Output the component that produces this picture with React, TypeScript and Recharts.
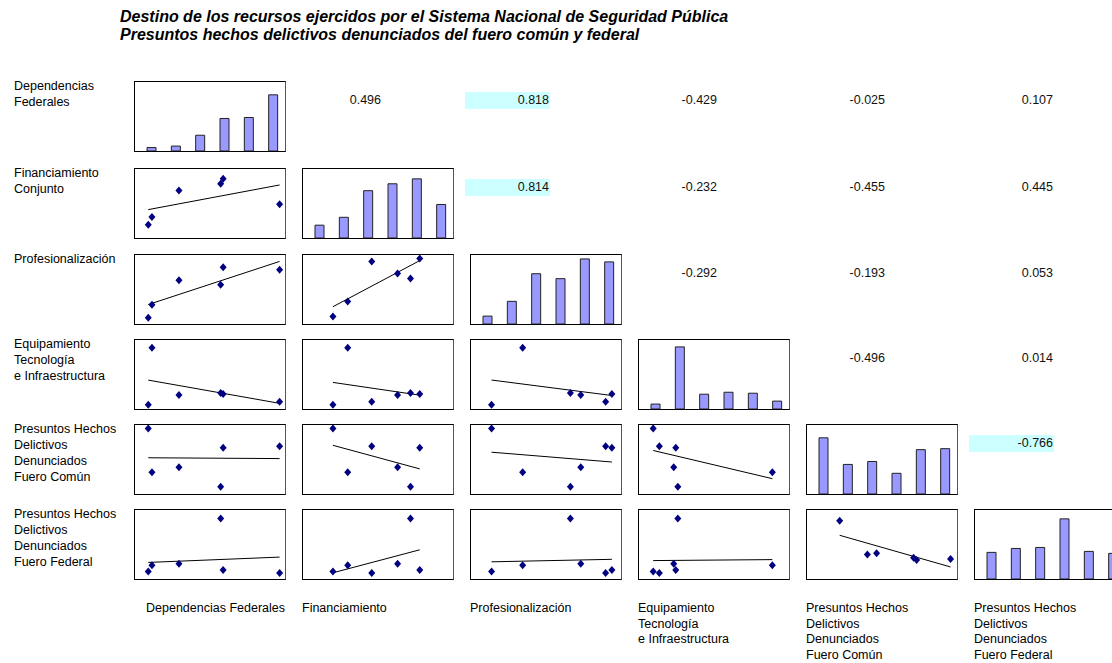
import React from 'react';
import { ScatterChart, Scatter, BarChart, Bar, XAxis, YAxis } from 'recharts';

const observaciones = ['1', '2', '3', '4', '5', '6'];
const dependenciasFederales = [3.5, 5, 16, 33, 34, 57];
const financiamientoConjunto = [13, 21, 48, 55, 60, 34];
const profesionalizacion = [8, 23, 51, 46, 66, 63];
const equipamiento = [5, 63, 15, 17, 16, 8];
const fueroComun = [57, 30, 33, 21, 45, 46];
const fueroFederal = [27, 31, 32, 61, 28, 26];

const filaEtiquetas = [
  ['Dependencias', 'Federales'],
  ['Financiamiento', 'Conjunto'],
  ['Profesionalización'],
  ['Equipamiento', 'Tecnología', 'e Infraestructura'],
  ['Presuntos Hechos', 'Delictivos', 'Denunciados', 'Fuero Común'],
  ['Presuntos Hechos', 'Delictivos', 'Denunciados', 'Fuero Federal'],
];
const columnaEtiquetas = [
  ['Dependencias Federales'],
  ['Financiamiento'],
  ['Profesionalización'],
  ['Equipamiento', 'Tecnología', 'e Infraestructura'],
  ['Presuntos Hechos', 'Delictivos', 'Denunciados', 'Fuero Común'],
  ['Presuntos Hechos', 'Delictivos', 'Denunciados', 'Fuero Federal'],
];

// upper triangle, row i starts at column i+1
const correlaciones = [
  ['0.496', '0.818', '-0.429', '-0.025', '0.107'],
  ['0.814', '-0.232', '-0.455', '0.445'],
  ['-0.292', '-0.193', '0.053'],
  ['-0.496', '0.014'],
  ['-0.766'],
];

const variables = [dependenciasFederales, financiamientoConjunto, profesionalizacion, equipamiento, fueroComun, fueroFederal];

// axis ranges (each Excel mini-chart autoscaled on its own)
const xDom: [number, number][] = [[-1.9, 59.2], [-3.2, 78], [-1.9, 70.4], [-1.9, 71.1], [10.4, 59.1]];
const yDom: [number, number][] = [[0, 70], [-0.5, 70], [0.9, 80], [0.6, 71], [16.5, 59.1], [22.2, 66.4]];
const yDomCelda: Record<string, [number, number]> = { '2-1': [0.4, 69.6], '5-4': [9.1, 70.5] };

const colLeft = [134, 302, 470, 638, 806, 974];
const rowTop = [81, 168, 254, 339, 424, 509];
const BOX_W = 152;
const BOX_H = 71;
const FONT = '"Liberation Sans", Arial, sans-serif';

const tendencia = (xs: number[], ys: number[]) => {
  const n = xs.length;
  const mx = xs.reduce((a, b) => a + b, 0) / n;
  const my = ys.reduce((a, b) => a + b, 0) / n;
  let sxy = 0, sxx = 0;
  xs.forEach((x, i) => { sxy += (x - mx) * (ys[i] - my); sxx += (x - mx) * (x - mx); });
  const b = sxy / sxx;
  const a = my - b * mx;
  const x0 = Math.min(...xs), x1 = Math.max(...xs);
  return [{ x: x0, y: a + b * x0 }, { x: x1, y: a + b * x1 }];
};

const Rombo = (props: any) => {
  const { cx, cy } = props;
  if (cx == null || cy == null) return <g />;
  return <polygon points={`${cx},${cy - 4} ${cx + 3.5},${cy} ${cx},${cy + 4} ${cx - 3.5},${cy}`} fill="#000080" />;
};
const Nada = () => <g />;

const Caja = ({ r, c, children }: any) => (
  <div style={{
    position: 'absolute', left: colLeft[c], top: rowTop[r], width: BOX_W, height: BOX_H,
    boxSizing: 'border-box', border: '1px solid #000', borderRightColor: '#555', background: '#fff',
  }}>
    {children}
  </div>
);

const Dispersion = ({ r, c }: { r: number; c: number }) => {
  const xs = variables[c];
  const ys = variables[r];
  const puntos = xs.map((x, i) => ({ x, y: ys[i] }));
  const linea = tendencia(xs, ys);
  const yd = yDomCelda[`${r}-${c}`] || yDom[r];
  return (
    <Caja r={r} c={c}>
      <ScatterChart width={BOX_W - 2} height={BOX_H - 2} margin={{ top: 0, right: 0, bottom: 0, left: 0 }}>
        <XAxis type="number" dataKey="x" domain={xDom[c]} hide allowDataOverflow />
        <YAxis type="number" dataKey="y" domain={yd} hide allowDataOverflow />
        <Scatter data={linea} line={{ stroke: '#000', strokeWidth: 1 }} shape={Nada} isAnimationActive={false} />
        <Scatter data={puntos} shape={Rombo} isAnimationActive={false} />
      </ScatterChart>
    </Caja>
  );
};

const Barras = ({ i }: { i: number }) => {
  const datos = observaciones.map((o, k) => ({ obs: o, v: variables[i][k] }));
  return (
    <Caja r={i} c={i}>
      <BarChart width={BOX_W - 2} height={BOX_H - 2} data={datos} margin={{ top: 0, right: 0, bottom: 0, left: 4 }}>
        <XAxis dataKey="obs" hide />
        <YAxis domain={[0, 70]} hide allowDataOverflow />
        <Bar dataKey="v" fill="#9999FF" stroke="#222" strokeWidth={1} barSize={9} isAnimationActive={false} />
      </BarChart>
    </Caja>
  );
};

export default function App() {
  const celdas: React.ReactNode[] = [];
  for (let r = 0; r < 6; r++) {
    for (let c = 0; c < r; c++) celdas.push(<Dispersion key={`s${r}${c}`} r={r} c={c} />);
    celdas.push(<Barras key={`b${r}`} i={r} />);
  }

  return (
    <div style={{ position: 'absolute', left: 0, top: 0, width: 1112, height: 663, overflow: 'hidden', background: '#fff', fontFamily: FONT, color: '#000' }}>
      <div style={{ position: 'absolute', left: 120, top: 8, fontSize: 16, fontWeight: 'bold', fontStyle: 'italic', lineHeight: '18px', whiteSpace: 'nowrap' }}>
        <div>Destino de los recursos ejercidos por el Sistema Nacional de Seguridad Pública</div>
        <div>Presuntos hechos delictivos denunciados del fuero común y federal</div>
      </div>

      {filaEtiquetas.map((lineas, r) => (
        <div key={`f${r}`} style={{ position: 'absolute', left: 14, top: rowTop[r] - 3, fontSize: 12.5, lineHeight: '16px', whiteSpace: 'nowrap' }}>
          {lineas.map(l => <div key={l}>{l}</div>)}
        </div>
      ))}

      {columnaEtiquetas.map((lineas, c) => (
        <div key={`c${c}`} style={{ position: 'absolute', left: c === 0 ? 146 : colLeft[c], top: 601, fontSize: 12.5, lineHeight: '15.5px', whiteSpace: 'nowrap' }}>
          {lineas.map(l => <div key={l}>{l}</div>)}
        </div>
      ))}

      {correlaciones.map((fila, r) => fila.map((txt, k) => {
        const c = r + 1 + k;
        const fuerte = Math.abs(parseFloat(txt)) >= 0.7;
        return (
          <div key={`r${r}${c}`} style={{
            position: 'absolute', left: colLeft[c] - 5, top: rowTop[r] + 11, width: 85, height: 17,
            lineHeight: '17px', textAlign: 'right', paddingRight: 1, boxSizing: 'border-box',
            fontSize: 12.5, background: fuerte ? '#CCFFFF' : 'transparent', color: '#111',
          }}>{txt}</div>
        );
      }))}

      {celdas}
    </div>
  );
}
